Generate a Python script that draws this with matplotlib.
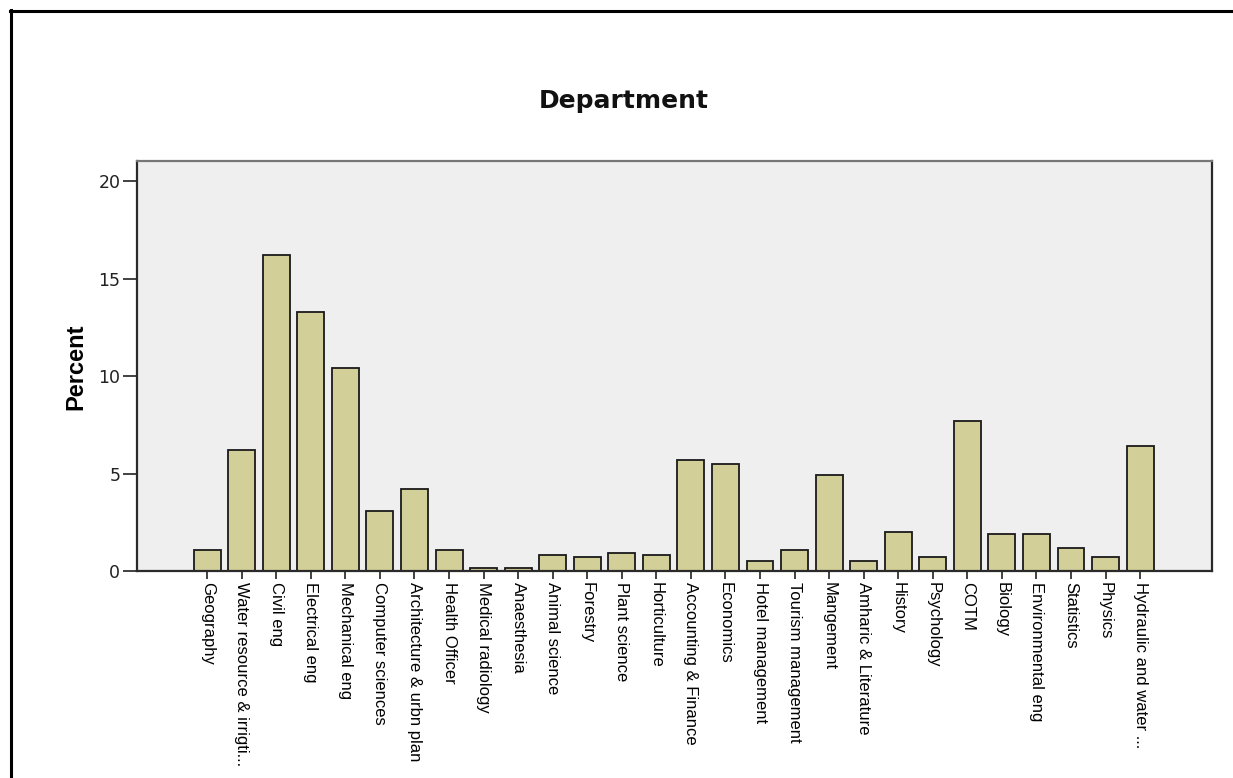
import matplotlib
matplotlib.use('Agg')
import matplotlib.pyplot as plt
from matplotlib.lines import Line2D
import numpy as np

# ---------------- data (percent per department) ----------------
departments = ['Geography', 'Water resource & irrigti...', 'Civil eng', 'Electrical eng',
               'Mechanical eng', 'Computer sciences', 'Architecture & urbn plan',
               'Health Officer', 'Medical radiology', 'Anaesthesia', 'Animal science',
               'Forestry', 'Plant science', 'Horticulture', 'Accounting & Finance',
               'Economics', 'Hotel management', 'Tourism management', 'Mangement',
               'Amharic & Literature', 'History', 'Psychology', 'COTM', 'Biology',
               'Environmental eng', 'Statistics', 'Physics', 'Hydraulic and water ...']
percent = [1.1, 6.2, 16.2, 13.3, 10.4, 3.1, 4.2,
           1.1, 0.14, 0.14, 0.8,
           0.7, 0.9, 0.8, 5.7,
           5.5, 0.5, 1.1, 4.9,
           0.5, 2.0, 0.7, 7.7, 1.9,
           1.9, 1.2, 0.7, 6.4]
yticks = [0, 5, 10, 15, 20]

W, H = 1233, 778
fig = plt.figure(figsize=(W / 100, H / 100), dpi=100)
fig.patch.set_facecolor('white')

# frame lines (top and left) of the output window
fig.add_artist(Line2D([10 / W, 1], [1 - 11 / H, 1 - 11 / H], transform=fig.transFigure,
                      color='black', lw=2.2))
fig.add_artist(Line2D([11 / W, 11 / W], [0, 1 - 10 / H], transform=fig.transFigure,
                      color='black', lw=2.2))

# axes placed by pixel edges
ax = fig.add_axes([137 / W, 1 - 571 / H, (1212 - 137) / W, (571 - 161) / H])
ax.set_facecolor('#efefef')

x = np.arange(len(departments))
ax.bar(x, percent, width=0.78, color='#d3cf98', edgecolor='#1a1a1a', linewidth=1.3, zorder=2)

ax.set_xlim(-2.03, 29.08)
ax.set_ylim(0, 21.03)
ax.set_yticks(yticks)
ax.set_yticklabels([str(v) for v in yticks], fontsize=12.5, family='DejaVu Sans', color='#222222')
ax.set_xticks(x)
ax.set_xticklabels(departments, rotation=270, ha='center', va='top',
                   fontsize=12, family='Liberation Sans')
ax.tick_params(axis='y', length=10, width=1.3, pad=2, color='#333333')
ax.tick_params(axis='x', length=6, width=1.3, pad=2, color='#333333')

for s in ['left', 'bottom', 'right']:
    ax.spines[s].set_linewidth(1.6)
    ax.spines[s].set_color('#2a2a2a')
ax.spines['top'].set_linewidth(1.6)
ax.spines['top'].set_color('#777777')

fig.text(624 / W, 1 - 101 / H, 'Department', ha='center', va='center',
         fontsize=18, fontweight='bold', family='DejaVu Sans', color='#111111')
fig.text(76 / W, 1 - 367 / H, 'Percent', ha='center', va='center', rotation=90,
         fontsize=17, fontweight='bold', family='Liberation Sans', color='black')

fig.savefig('out.png', dpi=100)
